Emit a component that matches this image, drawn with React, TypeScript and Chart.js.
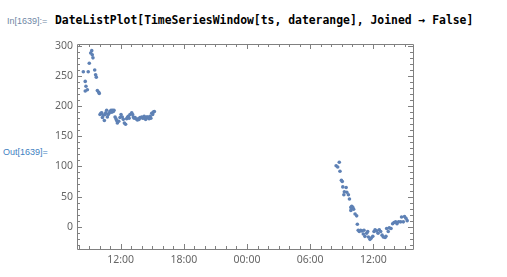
import React, { useEffect, useRef } from "react";
import { Chart, registerables } from "chart.js";

Chart.register(...registerables);

// Day 1 samples (clock time, value)
const day1Times = [
  "08:27", "08:38", "08:42", "08:38", "08:50", "08:55", "09:01", "09:09", "09:15", "09:18",
  "09:22", "09:32", "09:37", "09:41", "09:47", "09:55", "09:58", "10:02", "10:07", "10:12",
  "10:16", "10:21", "10:27", "10:31", "10:35", "10:40", "10:44", "10:49", "10:54", "10:59",
  "11:05", "11:09", "11:14", "11:18", "11:22", "11:28", "11:33", "11:37", "11:41", "11:49",
  "11:56", "12:02", "12:09", "12:15", "12:21", "12:28", "12:34", "12:38", "12:43", "12:48",
  "12:53", "13:03", "13:08", "13:12", "13:17", "13:22", "13:31", "13:36", "13:40", "13:45",
  "13:50", "14:00", "14:05", "14:09", "14:14", "14:18", "14:23", "14:28", "14:33", "14:37",
  "14:42", "14:47", "14:52", "14:57", "15:02", "15:06", "15:12",
];
const day1Values = [
  257, 241, 233, 225, 227, 257, 271, 288, 292, 285,
  280, 260, 252, 248, 226, 223, 221, 186, 188, 189,
  181, 185, 176, 186, 189, 193, 182, 186, 188, 191,
  193, 190, 193, 191, 193, 182, 179, 176, 172, 175,
  181, 186, 182, 178, 172, 170, 179, 181, 183, 180,
  186, 189, 186, 182, 180, 181, 178, 177, 179, 178,
  181, 182, 180, 181, 183, 179, 178, 182, 182, 181,
  179, 183, 180, 188, 186, 190, 191,
];

// Day 2 samples (clock time, value)
const day2Times = [
  "08:28", "08:37", "08:46", "08:50", "08:58", "09:03", "09:06", "09:12", "09:15", "09:25",
  "09:29", "09:38", "09:44", "09:52", "09:52", "09:57", "10:03", "10:08", "10:16", "10:25",
  "10:29", "10:34", "10:40", "10:48", "10:55", "11:03", "11:07", "11:12", "11:22", "11:28",
  "11:32", "11:41", "11:47", "11:57", "12:04", "12:10", "12:19", "12:27", "12:34", "12:42",
  "12:50", "12:57", "13:07", "13:12", "13:16", "13:25", "13:31", "13:41", "13:50", "13:58",
  "14:07", "14:15", "14:24", "14:36", "14:41", "14:51", "14:58", "15:06", "15:13",
];
const day2Values = [
  101, 99, 107, 92, 77, 75, 66, 53, 58, 65,
  57, 53, 46, 32, 27, 34, 32, 29, 21, 18,
  4, -6, -8, -6, -7, -12, -6, -16, -11, -8,
  -17, -21, -19, -16, -8, -5, -7, -11, -5, -8,
  -14, -17, -18, -16, -3, -8, -2, -3, 5, 7,
  8, 5, 8, 8, 16, 8, 17, 14, 10,
];

const xMin = 7.85;
const xMax = 39.77;
const yMin = -37;
const yMax = 303;
const xMajorStep = 6;
const yMajorStep = 50;
const yMinorStep = 10;

const pointColor = "#5E81B5";
const frameColor = "#808080";
const labelColor = "#666666";

function toHours(t: string, dayOffset: number): number {
  const [h, m] = t.split(":").map(Number);
  return dayOffset * 24 + h + m / 60;
}

function formatClock(v: number): string {
  const h = ((Math.round(v) % 24) + 24) % 24;
  return `${String(h).padStart(2, "0")}:00`;
}

const framePlugin = {
  id: "mmaFrame",
  beforeDatasetsDraw(chart: any) {
    const { ctx, chartArea } = chart;
    const xs = chart.scales.x;
    const ys = chart.scales.y;
    const { left, right, top, bottom } = chartArea;
    ctx.save();
    ctx.strokeStyle = frameColor;
    ctx.lineWidth = 1;
    ctx.beginPath();
    ctx.rect(Math.round(left) + 0.5, Math.round(top) + 0.5, Math.round(right - left), Math.round(bottom - top));
    ctx.stroke();
    ctx.beginPath();
    for (let h = Math.ceil(xMin); h <= Math.floor(xMax); h++) {
      const px = Math.round(xs.getPixelForValue(h)) + 0.5;
      const len = h % xMajorStep === 0 ? 5 : 3;
      ctx.moveTo(px, bottom);
      ctx.lineTo(px, bottom - len);
      ctx.moveTo(px, top);
      ctx.lineTo(px, top + len);
    }
    for (let v = Math.ceil(yMin / yMinorStep) * yMinorStep; v <= yMax; v += yMinorStep) {
      const py = Math.round(ys.getPixelForValue(v)) + 0.5;
      const len = v % yMajorStep === 0 ? 5 : 3;
      ctx.moveTo(left, py);
      ctx.lineTo(left + len, py);
      ctx.moveTo(right, py);
      ctx.lineTo(right - len, py);
    }
    ctx.stroke();
    ctx.restore();
  },
};

export default function App() {
  const canvasRef = useRef<HTMLCanvasElement | null>(null);

  useEffect(() => {
    document.body.style.margin = "0";
    const canvas = canvasRef.current;
    if (!canvas) return;
    const pts = [
      ...day1Times.map((t, i) => ({ x: toHours(t, 0), y: day1Values[i] })),
      ...day2Times.map((t, i) => ({ x: toHours(t, 1), y: day2Values[i] })),
    ];
    const chart = new Chart(canvas, {
      type: "scatter",
      data: {
        datasets: [
          {
            data: pts,
            backgroundColor: pointColor,
            borderWidth: 0,
            pointRadius: 1.8,
            pointHoverRadius: 1.8,
          },
        ],
      },
      options: {
        animation: false,
        responsive: false,
        maintainAspectRatio: false,
        events: [],
        layout: { padding: { top: 44, right: 94, left: 0, bottom: 0 } },
        plugins: { legend: { display: false }, tooltip: { enabled: false } },
        scales: {
          x: {
            type: "linear",
            min: xMin,
            max: xMax,
            grid: { display: false, drawTicks: false },
            border: { display: false },
            afterFit: (s: any) => {
              s.height = 28;
            },
            ticks: {
              stepSize: xMajorStep,
              includeBounds: false,
              autoSkip: false,
              maxRotation: 0,
              padding: 5,
              color: labelColor,
              font: { family: "'Noto Sans', 'DejaVu Sans', sans-serif", size: 10.5 },
              callback: (v: any) => formatClock(Number(v)),
            },
          },
          y: {
            type: "linear",
            min: yMin,
            max: yMax,
            grid: { display: false, drawTicks: false },
            border: { display: false },
            afterFit: (s: any) => {
              s.width = 77;
            },
            ticks: {
              stepSize: yMajorStep,
              includeBounds: false,
              autoSkip: false,
              padding: 4,
              color: labelColor,
              font: { family: "'Noto Sans', 'DejaVu Sans', sans-serif", size: 10.5 },
            },
          },
        },
      },
      plugins: [framePlugin],
    });
    return () => chart.destroy();
  }, []);

  return (
    <div style={{ position: "relative", width: 507, height: 277, background: "#fff", overflow: "hidden" }}>
      <div
        style={{
          position: "absolute",
          left: 7,
          top: 16,
          fontFamily: "'Liberation Sans', Arial, sans-serif",
          fontSize: 9,
          color: "#6f87a5",
          whiteSpace: "nowrap",
          lineHeight: "10px",
        }}
      >
        In[1639]:=
      </div>
      <div
        style={{
          position: "absolute",
          left: 55,
          top: 13,
          fontFamily: "'DejaVu Sans Mono', 'Liberation Mono', monospace",
          fontWeight: "bold",
          fontSize: 11.4,
          color: "#000",
          whiteSpace: "nowrap",
          lineHeight: "14px",
        }}
      >
        DateListPlot[TimeSeriesWindow[ts, daterange], Joined → False]
      </div>
      <div
        style={{
          position: "absolute",
          left: 3,
          top: 147,
          fontFamily: "'Liberation Sans', Arial, sans-serif",
          fontSize: 9,
          color: "#3f7fbf",
          whiteSpace: "nowrap",
          lineHeight: "10px",
        }}
      >
        Out[1639]=
      </div>
      <canvas
        ref={canvasRef}
        width={507}
        height={277}
        style={{ position: "absolute", left: 0, top: 0, width: 507, height: 277 }}
      />
    </div>
  );
}
